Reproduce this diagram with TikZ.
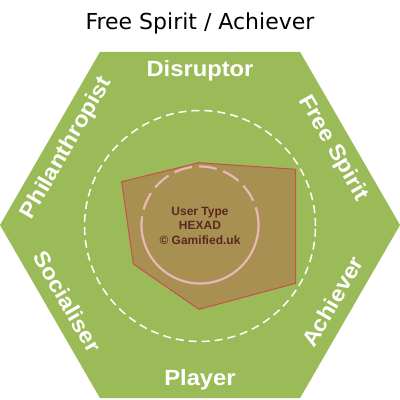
\documentclass[tikz,border=0pt]{standalone}
\usepackage{fontspec}
\usetikzlibrary{calc}
\setmainfont{Liberation Sans}
\newfontfamily\titlefont{DejaVu Sans}
\definecolor{hexgreen}{HTML}{9BBB59}
\definecolor{polyfill}{HTML}{A88F52}
\definecolor{polyline}{HTML}{C8504A}
\definecolor{pinkring}{HTML}{E8B8B8}
\definecolor{centertext}{HTML}{5A2820}
\tikzset{
  typelabel/.style={text=white, font=\fontsize{22}{26}\selectfont\bfseries, inner sep=0pt, anchor=base},
  centerlabel/.style={text=centertext, font=\fontsize{12}{14}\selectfont\bfseries, inner sep=0pt, anchor=base},
}
\begin{document}
\begin{tikzpicture}[x=1pt,y=1pt]
\useasboundingbox (0,0) rectangle (400,400);
\fill[white] (0,0) rectangle (400,400);
\coordinate (c) at (200,175);
% hexagon
\fill[hexgreen] (400,175) -- (300,348.2) -- (100,348.2) -- (0,175) -- (100,1.8) -- (300,1.8) -- cycle;
% outer dashed circle
\draw[white, line width=1.5pt, dash pattern=on 8pt off 5pt] (200,174) circle (115.5);
% profile polygon
\fill[polyfill, draw=polyline, line width=1pt]
  (121.7,218.3) -- (199,237.3) -- (295.7,230.7) -- (295.7,116.7) -- (199,90.7) -- (133.3,136) -- cycle;
% inner ring
\draw[pinkring, line width=2.2pt, dash pattern=on 18pt off 7pt] (258.5,175) arc (0:180:58.5);
\draw[pinkring, line width=2.2pt] (141.5,175) arc (180:360:58.5);
% title
\node[font=\titlefont\fontsize{22}{26}\selectfont, anchor=base, inner sep=0pt] (title) at (200,370.7) {Free Spirit / Achiever};
% type labels
\node[typelabel] (disruptor) at (200,323.3) {\scalebox{1.08}[1]{Disruptor}};
\node[typelabel] (player) at (200,14) {\scalebox{1.08}[1]{Player}};
\node[typelabel, rotate=-60] (freespirit) at ($(c)+(30:148)$) {\scalebox{1.08}[1]{Free Spirit}};
\node[typelabel, rotate=60] (achiever) at ($(c)+(-30:161)$) {\scalebox{1.08}[1]{Achiever}};
\node[typelabel, rotate=-60] (socialiser) at ($(c)+(210:161)$) {\scalebox{1.08}[1]{Socialiser}};
\node[typelabel, rotate=60] (philanthropist) at ($(c)+(150:148)$) {\scalebox{1.08}[1]{Philanthropist}};
% centre text
\node[centerlabel] (l1) at (200,184) {User Type};
\node[centerlabel] (l2) at (200,170) {HEXAD};
\node[centerlabel] (l3) at (200,155.7) {© Gamified.uk};
\end{tikzpicture}
\end{document}
